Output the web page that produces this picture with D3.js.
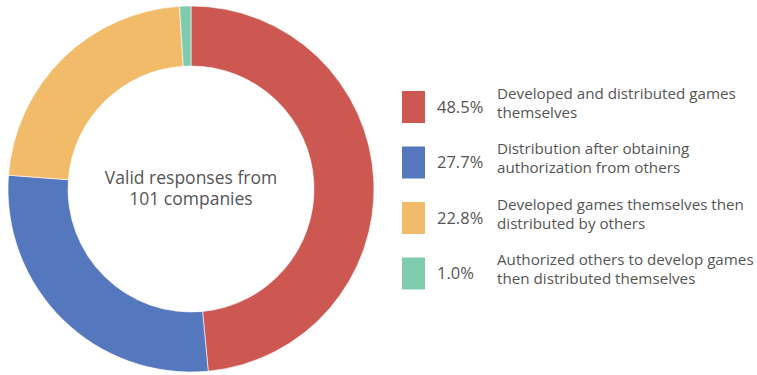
<!DOCTYPE html>
<html>
<head>
<meta charset="utf-8">
<script src="https://cdn.jsdelivr.net/npm/d3@7"></script>
<style>
  html, body { margin: 0; padding: 0; background: #fff; }
  svg { display: block; font-family: "Open Sans", "Noto Sans", sans-serif; }
</style>
</head>
<body>
<svg id="chart" width="757" height="375"></svg>
<script>
// Distribution models reported by surveyed companies (share of responses, %)
const categories = [
  "Developed and distributed games themselves",
  "Distribution after obtaining authorization from others",
  "Developed games themselves then distributed by others",
  "Authorized others to develop games then distributed themselves"
];
const labelLines = [
  ["Developed and distributed games", "themselves"],
  ["Distribution after obtaining", "authorization from others"],
  ["Developed games themselves then", "distributed by others"],
  ["Authorized others to develop games", "then distributed themselves"]
];
const shares = [48.5, 27.7, 22.8, 1.0];
const colors = ["#cd5852", "#5577be", "#f2bb6a", "#7ecbad"];
const centerLines = ["Valid responses from", "101 companies"];

const svg = d3.select("#chart");
const cx = 191, cy = 189, outerR = 183, innerR = 123;

const pie = d3.pie().sort(null).value(d => d.value);
const arc = d3.arc().innerRadius(innerR).outerRadius(outerR);
const data = categories.map((c, i) => ({ name: c, value: shares[i], color: colors[i] }));

const g = svg.append("g").attr("transform", `translate(${cx},${cy})`);
g.selectAll("path")
  .data(pie(data))
  .join("path")
  .attr("d", arc)
  .attr("fill", d => d.data.color)
  .attr("stroke", "#fff")
  .attr("stroke-width", 0.6);

// Centre caption
g.append("text")
  .attr("text-anchor", "middle")
  .attr("fill", "#555")
  .attr("font-size", 17.5)
  .selectAll("tspan")
  .data(centerLines)
  .join("tspan")
  .attr("x", 0)
  .attr("y", (d, i) => -5 + i * 21)
  .text(d => d);

// Legend
const legend = svg.append("g").attr("transform", "translate(402,91)");
const row = legend.selectAll("g")
  .data(data)
  .join("g")
  .attr("transform", (d, i) => `translate(0,${i * 55.5})`);

row.append("rect")
  .attr("width", 23)
  .attr("height", 32)
  .attr("fill", d => d.color);

row.append("text")
  .attr("x", 35)
  .attr("y", 21.5)
  .attr("font-size", 16.5)
  .attr("fill", "#555")
  .text(d => d3.format(".1f")(d.value) + "%");

row.append("text")
  .attr("x", 95)
  .attr("font-size", 15.2)
  .attr("fill", "#555")
  .selectAll("tspan")
  .data((d, i) => labelLines[i])
  .join("tspan")
  .attr("x", 95)
  .attr("y", (d, i) => 7.5 + i * 19)
  .text(d => d);
</script>
</body>
</html>
